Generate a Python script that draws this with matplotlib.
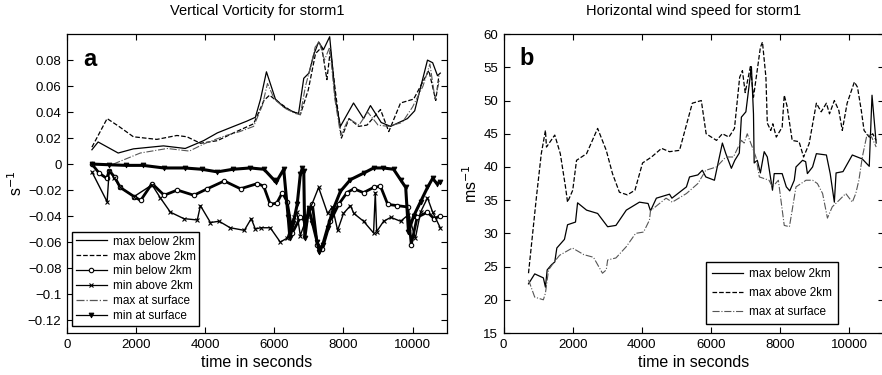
import matplotlib
matplotlib.use("Agg")
import matplotlib.pyplot as plt
from matplotlib.ticker import FuncFormatter

plt.rcParams['font.family'] = ['Liberation Sans', 'DejaVu Sans']

# ---- panel a: vertical vorticity (s^-1) ----
t_vmax_below = [720, 900, 1480, 1920, 2790, 3420, 3950, 4350, 4820, 5200, 5450, 5600, 5770,
                6030, 6270, 6560, 6700, 6850, 7000, 7150, 7280, 7420, 7600, 7700, 7770, 7910,
                8290, 8580, 8780, 9090, 9360, 9850, 10060, 10430, 10580, 10720, 10800]
vmax_below = [0.011, 0.017, 0.0085, 0.0117, 0.014, 0.012, 0.018, 0.024, 0.029, 0.033, 0.036, 0.05, 0.071,
              0.05, 0.044, 0.04, 0.039, 0.066, 0.07, 0.085, 0.094, 0.088, 0.098, 0.07, 0.049, 0.029,
              0.047, 0.035, 0.045, 0.032, 0.029, 0.035, 0.041, 0.080, 0.078, 0.068, 0.07]

t_vmax_above = [720, 1160, 1500, 1920, 2600, 3180, 3470, 3860, 4350, 4820, 5400, 5700, 5860,
                6050, 6470, 6750, 6980, 7190, 7370, 7520, 7620, 7770, 7940, 8160, 8440, 8680,
                9070, 9310, 9650, 10030, 10470, 10670, 10760]
vmax_above = [0.013, 0.035, 0.029, 0.021, 0.019, 0.022, 0.021, 0.016, 0.018, 0.024, 0.031, 0.049, 0.053,
              0.049, 0.041, 0.038, 0.057, 0.085, 0.09, 0.065, 0.088, 0.055, 0.02, 0.035, 0.029, 0.030,
              0.042, 0.025, 0.047, 0.050, 0.072, 0.049, 0.068]

t_vmax_surf = [1340, 2120, 2900, 3540, 4000, 4600, 5000, 5400, 5650, 5800, 6000, 6300, 6600,
               6750, 6900, 7050, 7180, 7300, 7450, 7600, 7750, 7920, 8150, 8450, 8700, 9000,
               9300, 9700, 10000, 10300, 10500, 10650, 10780]
vmax_surf = [0.0, 0.0085, 0.012, 0.010, 0.016, 0.022, 0.025, 0.029, 0.045, 0.062, 0.05, 0.043, 0.039,
             0.038, 0.06, 0.075, 0.09, 0.094, 0.08, 0.09, 0.05, 0.022, 0.035, 0.03, 0.04, 0.03,
             0.029, 0.032, 0.044, 0.06, 0.077, 0.05, 0.065]

t_vmin_below = [720, 930, 1150, 1220, 1380, 1540, 1940, 2130, 2460, 2810, 3190, 3670, 4060, 4550,
                5020, 5510, 5690, 5880, 6070, 6230, 6370, 6520, 6750, 6900, 7100, 7240, 7390,
                7620, 7860, 8100, 8300, 8580, 8870, 9070, 9280, 9560, 9860, 9960, 10130, 10430,
                10620, 10800]
vmin_below = [0.0, -0.007, -0.011, -0.005, -0.010, -0.018, -0.025, -0.028, -0.015, -0.024, -0.020,
              -0.024, -0.019, -0.013, -0.019, -0.015, -0.017, -0.031, -0.030, -0.022, -0.029, -0.053,
              -0.041, -0.044, -0.031, -0.062, -0.065, -0.044, -0.031, -0.022, -0.019, -0.022, -0.018,
              -0.017, -0.031, -0.032, -0.033, -0.062, -0.041, -0.037, -0.042, -0.040]

t_vmin_above = [720, 1160, 1220, 1370, 1540, 1940, 2460, 2700, 2990, 3380, 3770, 3860, 4150, 4400,
                4720, 5130, 5330, 5450, 5600, 5880, 6170, 6370, 6560, 6650, 6750, 6950, 7280,
                7540, 7680, 7830, 8000, 8200, 8300, 8580, 8870, 8920, 8960, 9160, 9370, 9650,
                9880, 10080, 10230, 10430, 10580, 10800]
vmin_above = [-0.006, -0.029, -0.005, -0.011, -0.018, -0.025, -0.016, -0.026, -0.037, -0.042, -0.043,
              -0.032, -0.045, -0.044, -0.049, -0.051, -0.042, -0.050, -0.049, -0.049, -0.060, -0.057,
              -0.041, -0.037, -0.055, -0.040, -0.018, -0.038, -0.033, -0.051, -0.038, -0.032, -0.038,
              -0.044, -0.053, -0.022, -0.052, -0.044, -0.041, -0.044, -0.039, -0.057, -0.037, -0.026,
              -0.037, -0.049]

t_vmin_surf = [720, 1200, 1700, 2200, 2800, 3400, 3900, 4350, 4800, 5300, 5700, 5980, 6050, 6270,
               6400, 6450, 6550, 6660, 6750, 6810, 6850, 6880, 6990, 7100, 7240, 7300, 7400, 7540,
               7700, 7910, 8200, 8580, 8870, 9150, 9450, 9650, 9800, 9880, 10030, 10230, 10430,
               10580, 10700, 10800]
vmin_surf = [0.0, -0.0005, -0.001, -0.001, -0.003, -0.003, -0.004, -0.006, -0.004, -0.003, -0.004,
             -0.012, -0.014, -0.004, -0.041, -0.057, -0.045, -0.031, -0.008, -0.003, -0.005, -0.057,
             -0.034, -0.045, -0.060, -0.068, -0.062, -0.049, -0.035, -0.021, -0.012, -0.007, -0.003,
             -0.003, -0.004, -0.012, -0.018, -0.052, -0.040, -0.029, -0.018, -0.011, -0.015, -0.014]

# ---- panel b: horizontal wind speed (m s^-1) ----
t_wmax_below = [720, 900, 1150, 1210, 1260, 1390, 1480, 1540, 1760, 1850, 2080, 2140, 2400, 2720,
                3010, 3250, 3550, 3930, 4180, 4250, 4420, 4800, 4870, 5290, 5380, 5620, 5750,
                5850, 6100, 6330, 6430, 6590, 6690, 6820, 6880, 7010, 7170, 7230, 7250, 7340,
                7430, 7540, 7630, 7780, 7830, 8060, 8180, 8280, 8410, 8460, 8650, 8740, 8790,
                8940, 9050, 9340, 9450, 9570, 9620, 9820, 10090, 10380, 10580, 10660, 10780]
wmax_below = [22.4, 23.9, 23.3, 21.9, 24.5, 25.3, 25.7, 27.8, 29.1, 31.3, 31.7, 34.6, 33.5, 33.0,
              31.0, 31.2, 33.5, 34.7, 34.5, 33.4, 35.3, 35.9, 35.3, 37.0, 38.5, 38.8, 39.5,
              38.5, 38.0, 43.6, 42.0, 39.8, 41.0, 42.1, 47.5, 48.3, 55.1, 48.0, 40.6, 41.0,
              39.1, 42.3, 41.5, 36.5, 39.0, 39.0, 37.0, 36.4, 38.0, 40.0, 41.0, 40.8, 39.0,
              40.0, 42.0, 41.8, 39.0, 34.7, 39.1, 39.3, 41.8, 41.2, 40.1, 50.8, 43.6]

t_wmax_above = [720, 950, 1090, 1210, 1240, 1480, 1640, 1790, 1850, 2000, 2110, 2400, 2720, 2970,
                3150, 3350, 3580, 3800, 4020, 4280, 4570, 4800, 5090, 5460, 5720, 5860, 6160,
                6330, 6520, 6680, 6830, 6910, 6990, 7140, 7230, 7310, 7430, 7490, 7590, 7630,
                7730, 7790, 7890, 8060, 8120, 8200, 8350, 8550, 8680, 8840, 9050, 9190, 9340,
                9430, 9570, 9700, 9800, 9940, 10150, 10240, 10350, 10430, 10580, 10680, 10780]
wmax_above = [24.0, 35.5, 42.0, 45.5, 43.0, 44.8, 42.0, 37.0, 34.7, 36.5, 41.0, 42.0, 45.8, 42.5,
              39.0, 36.2, 35.8, 36.5, 40.6, 41.5, 42.8, 42.3, 42.5, 49.6, 50.0, 45.0, 44.0,
              45.0, 44.5, 45.8, 53.5, 54.5, 51.2, 55.1, 50.5, 53.5, 58.0, 58.8, 53.5, 46.6,
              45.5, 46.5, 44.5, 46.0, 50.8, 49.2, 44.0, 43.8, 41.5, 43.5, 49.6, 48.3, 49.6,
              48.0, 50.0, 48.5, 45.5, 49.6, 52.8, 52.0, 48.5, 45.5, 44.5, 45.0, 44.0]

t_wmax_surf = [720, 900, 1150, 1210, 1300, 1480, 1620, 1990, 2320, 2600, 2860, 2970, 3010, 3250,
               3550, 3820, 4050, 4220, 4250, 4700, 4880, 5290, 5620, 5850, 6160, 6430, 6650,
               6880, 6960, 7050, 7230, 7300, 7400, 7680, 7780, 7950, 8120, 8270, 8350, 8460,
               8750, 8940, 9080, 9230, 9370, 9510, 9710, 9900, 10090, 10190, 10280, 10380,
               10520, 10650, 10780]
wmax_surf = [23.0, 20.4, 20.0, 21.0, 24.5, 25.8, 26.7, 27.8, 26.8, 26.4, 24.0, 24.5, 26.0, 26.3,
             28.0, 30.0, 30.2, 32.0, 33.4, 35.3, 34.7, 36.0, 37.5, 39.5, 40.0, 41.5, 41.5,
             44.0, 43.6, 45.0, 42.5, 41.5, 38.5, 38.0, 37.0, 38.0, 31.2, 31.0, 33.5, 37.0,
             38.0, 38.0, 37.5, 36.0, 32.3, 34.0, 35.0, 36.0, 34.7, 36.0, 38.0, 41.5,
             45.0, 44.5, 43.0]

x_ticks = [0, 2000, 4000, 6000, 8000, 10000]
vort_ticks = [-0.12, -0.1, -0.08, -0.06, -0.04, -0.02, 0, 0.02, 0.04, 0.06, 0.08]
wind_ticks = [15, 20, 25, 30, 35, 40, 45, 50, 55, 60]


def matlab_fmt(v, pos):
    s = f"{v:g}"
    return s.replace("-", "\u2212")


def style_axes(ax):
    ax.tick_params(direction='in', top=True, right=True, length=4, width=0.8,
                   labelsize=9.5, pad=4)
    for sp in ax.spines.values():
        sp.set_linewidth(0.9)


fig = plt.figure(figsize=(8.82, 3.75), dpi=100)

# panel a
ax1 = fig.add_axes([0.076, 0.112, 0.431, 0.797])
ax1.plot(t_vmax_below, vmax_below, '-', color='black', lw=0.9, label='max below 2km')
ax1.plot(t_vmax_above, vmax_above, '--', color='black', lw=0.9, label='max above 2km')
ax1.plot(t_vmin_below, vmin_below, '-', color='black', lw=2.0, marker='o', ms=3.2,
         mfc='white', mew=0.8, label='min below 2km')
ax1.plot(t_vmin_above, vmin_above, '-', color='black', lw=1.0, marker='x', ms=3,
         mew=0.8, label='min above 2km')
ax1.plot(t_vmax_surf, vmax_surf, '-.', color='#555555', lw=0.8, label='max at surface')
ax1.plot(t_vmin_surf, vmin_surf, '-', color='black', lw=2.2, marker='v', ms=3.5,
         mew=0.6, label='min at surface')
ax1.set_xlim(0, 11000)
ax1.set_ylim(-0.13, 0.1)
ax1.set_xticks(x_ticks)
ax1.set_yticks(vort_ticks)
ax1.yaxis.set_major_formatter(FuncFormatter(matlab_fmt))
style_axes(ax1)
ax1.set_title('Vertical Vorticity for storm1', fontsize=10.5, pad=14)
ax1.set_xlabel('time in seconds', fontsize=11.5, labelpad=3)
ax1.set_ylabel('s$^{-1}$', fontsize=11.5, labelpad=2)
ax1.text(0.042, 0.893, 'a', transform=ax1.transAxes, fontsize=17, fontweight='bold')
leg1 = ax1.legend(loc='lower left', bbox_to_anchor=(0.005, 0.012), fontsize=8.5,
                  frameon=True, fancybox=False, edgecolor='black', framealpha=1,
                  handlelength=2.6, handletextpad=0.5, labelspacing=0.25,
                  borderpad=0.3, borderaxespad=0.3)
leg1.get_frame().set_linewidth(1.0)
for ln in leg1.get_lines():
    ln.set_linewidth(0.9)

# panel b
ax2 = fig.add_axes([0.571, 0.112, 0.431, 0.797])
ax2.plot(t_wmax_below, wmax_below, '-', color='black', lw=0.9, label='max below 2km')
ax2.plot(t_wmax_above, wmax_above, '--', color='black', lw=0.9, label='max above 2km')
ax2.plot(t_wmax_surf, wmax_surf, '-.', color='#555555', lw=0.8, label='max at surface')
ax2.set_xlim(0, 11000)
ax2.set_ylim(15, 60)
ax2.set_xticks(x_ticks)
ax2.set_yticks(wind_ticks)
style_axes(ax2)
ax2.set_title('Horizontal wind speed for storm1', fontsize=10.5, pad=14)
ax2.set_xlabel('time in seconds', fontsize=11.5, labelpad=3)
ax2.set_ylabel('ms$^{-1}$', fontsize=11.5, labelpad=2)
ax2.text(0.042, 0.896, 'b', transform=ax2.transAxes, fontsize=17, fontweight='bold')
leg2 = ax2.legend(loc='lower right', bbox_to_anchor=(0.879, 0.03), fontsize=8.5,
                  frameon=True, fancybox=False, edgecolor='black', framealpha=1,
                  handlelength=2.6, handletextpad=0.5, labelspacing=0.6,
                  borderpad=0.5, borderaxespad=0.0)
leg2.get_frame().set_linewidth(1.0)

fig.savefig('out.png', dpi=100)
